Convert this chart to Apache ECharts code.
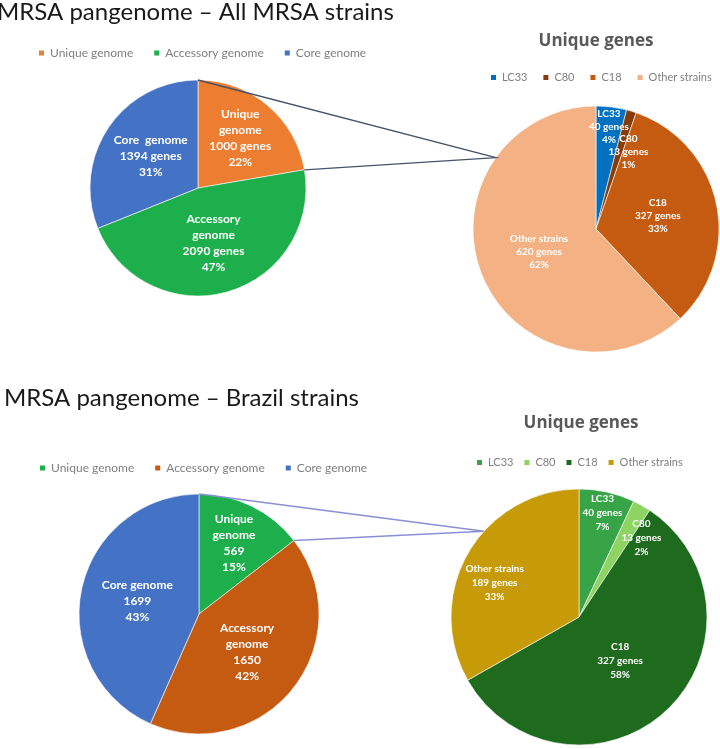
<!DOCTYPE html>
<html>
<head>
<meta charset="utf-8">
<script src="https://cdn.jsdelivr.net/npm/echarts@6/dist/echarts.min.js"></script>
<style>
html,body{margin:0;padding:0;background:#fff;}
#chart{width:720px;height:749px;}
</style>
</head>
<body>
<div id="chart"></div>
<script>
// ---- data ----
const allTitle = 'MRSA pangenome \u2013 All MRSA strains';
const brazilTitle = 'MRSA pangenome \u2013 Brazil strains';
const uniqueTitle = 'Unique genes';

const allCategories = ['Unique genome', 'Accessory genome', 'Core genome'];
const allValues = [1000, 2090, 1394];
const allLabelNames = ['Unique\ngenome', 'Accessory\ngenome', 'Core  genome'];

const allUniqueCategories = ['LC33', 'C80', 'C18', 'Other strains'];
const allUniqueValues = [40, 13, 327, 620];
const allUniqueLabelNames = ['LC33', 'C80', 'C18', 'Other strains'];

const brazilCategories = ['Unique genome', 'Accessory genome', 'Core genome'];
const brazilValues = [569, 1650, 1699];
const brazilLabelNames = ['Unique\ngenome', 'Accessory\ngenome', 'Core genome'];

const brazilUniqueCategories = ['LC33', 'C80', 'C18', 'Other strains'];
const brazilUniqueValues = [40, 13, 327, 189];
const brazilUniqueLabelNames = ['LC33', 'C80', 'C18', 'Other strains'];

// ---- styles / layout ----
const colorsAll = ['#ED7D31', '#1DAF4B', '#4472C4'];
const colorsAllUnique = ['#0070C0', '#843C0C', '#C55A11', '#F4B183'];
const colorsBrazil = ['#1DAF4B', '#C55A11', '#4472C4'];
const colorsBrazilUnique = ['#37A447', '#8ED462', '#1F6B1E', '#C79A08'];

const centers = [[198, 188], [596, 229], [199, 614], [579, 617]];
const radii = [108, 123, 120, 128];
const labelFactors = [
  [1.15, 1.0, 1.0],
  [1.6, 1.3, 0.98, 0.95],
  [1.26, 0.97, 1.0],
  [1.6, 1.5, 0.9, 1.36]
];
const labelShift = [
  [0, 0, 0],
  [0, 6, 0, 0],
  [0, 0, 0],
  [0, 9, 0, -8]
];
const FONT = 'Lato, "Open Sans", sans-serif';

function makeLabel(names, unit, size, lh) {
  return {
    show: true,
    position: 'inside',
    color: '#fff',
    fontWeight: 'bold',
    fontFamily: FONT,
    fontSize: size,
    lineHeight: lh,
    formatter: function (p) {
      return names[p.dataIndex] + '\n' + p.value + unit + '\n' + p.percent + '%';
    }
  };
}

function makeData(cats, vals, colors) {
  return cats.map(function (c, i) {
    return { name: c, value: vals[i], itemStyle: { color: colors[i] } };
  });
}

function legendData(cats, colors) {
  return cats.map(function (c, i) {
    return { name: c, itemStyle: { color: colors[i] } };
  });
}

function labelLayoutFn(p) {
  const s = p.seriesIndex, i = p.dataIndex;
  const f = labelFactors[s][i];
  const t = labelShift[s][i] * Math.PI / 180;
  const c = centers[s];
  const x = p.labelRect.x + p.labelRect.width / 2 - c[0];
  const y = p.labelRect.y + p.labelRect.height / 2 - c[1];
  const nx = (x * Math.cos(t) - y * Math.sin(t)) * f;
  const ny = (x * Math.sin(t) + y * Math.cos(t)) * f;
  return { dx: nx - x, dy: ny - y };
}

function pieSeries(idx, cats, vals, colors, names, unit, size, lh) {
  return {
    type: 'pie',
    center: centers[idx],
    radius: [0, radii[idx]],
    startAngle: 90,
    clockwise: true,
    percentPrecision: 0,
    avoidLabelOverlap: false,
    silent: true,
    itemStyle: { borderColor: '#fff', borderWidth: 0.6 },
    label: makeLabel(names, unit, size, lh),
    labelLine: { show: false },
    labelLayout: labelLayoutFn,
    emphasis: { disabled: true },
    data: makeData(cats, vals, colors)
  };
}

const legendText = { color: '#7F7F7F', fontSize: 12, fontFamily: FONT };
const legendTextSmall = { color: '#7F7F7F', fontSize: 11, fontFamily: FONT };

// connector lines (geometry derived from data + pie layout)
function pt(idx, angleDeg) {
  const a = angleDeg * Math.PI / 180;
  return [centers[idx][0] + radii[idx] * Math.sin(a), centers[idx][1] - radii[idx] * Math.cos(a)];
}
function sum(a) { return a.reduce(function (s, v) { return s + v; }, 0); }
const topA = pt(0, 0);
const topB = pt(0, 360 * allValues[0] / sum(allValues));
const topT = pt(1, 305.5);
const botA = pt(2, 0);
const botB = pt(2, 360 * brazilValues[0] / sum(brazilValues));
const botT = pt(3, 312);

const titleBig = { fontFamily: FONT, fontSize: 24, fontWeight: 'normal', color: '#1a1a1a' };
const titleSmall = { fontFamily: '"Open Sans", Lato, sans-serif', fontSize: 17, fontWeight: 'bold', color: '#595959' };

const chart = echarts.init(document.getElementById('chart'), null, { renderer: 'canvas' });
chart.setOption({
  backgroundColor: '#fff',
  animation: false,
  title: [
    { text: allTitle, left: -3, top: 0, padding: 0, textStyle: titleBig },
    { text: uniqueTitle, left: 596, top: 33, padding: 0, textAlign: 'center', textStyle: titleSmall },
    { text: brazilTitle, left: 4, top: 386, padding: 0, textStyle: titleBig },
    { text: uniqueTitle, left: 581, top: 415, padding: 0, textAlign: 'center', textStyle: titleSmall }
  ],
  legend: [
    { left: 32, top: 42, icon: 'rect', itemWidth: 7, itemHeight: 7, itemGap: 19, selectedMode: false, textStyle: legendText, data: legendData(allCategories, colorsAll) },
    { left: 484, top: 67, icon: 'rect', itemWidth: 7, itemHeight: 7, itemGap: 14, selectedMode: false, textStyle: legendTextSmall, data: legendData(allUniqueCategories, colorsAllUnique) },
    { left: 33, top: 457, icon: 'rect', itemWidth: 7, itemHeight: 7, itemGap: 19, selectedMode: false, textStyle: legendText, data: legendData(brazilCategories, colorsBrazil) },
    { left: 470, top: 452, icon: 'rect', itemWidth: 7, itemHeight: 7, itemGap: 9, selectedMode: false, textStyle: legendTextSmall, data: legendData(brazilUniqueCategories, colorsBrazilUnique) }
  ],
  series: [
    pieSeries(0, allCategories, allValues, colorsAll, allLabelNames, ' genes', 12, 16),
    pieSeries(1, allUniqueCategories, allUniqueValues, colorsAllUnique, allUniqueLabelNames, ' genes', 10, 13),
    pieSeries(2, brazilCategories, brazilValues, colorsBrazil, brazilLabelNames, '', 12, 16),
    pieSeries(3, brazilUniqueCategories, brazilUniqueValues, colorsBrazilUnique, brazilUniqueLabelNames, ' genes', 10, 14)
  ],
  graphic: [
    { type: 'polyline', silent: true, z: 10, shape: { points: [topA, topT, topB] }, style: { stroke: '#44546A', lineWidth: 1.3, fill: null } },
    { type: 'polyline', silent: true, z: 10, shape: { points: [botA, botT, botB] }, style: { stroke: '#8A8FD4', lineWidth: 1.5, fill: null } }
  ]
});
</script>
</body>
</html>
